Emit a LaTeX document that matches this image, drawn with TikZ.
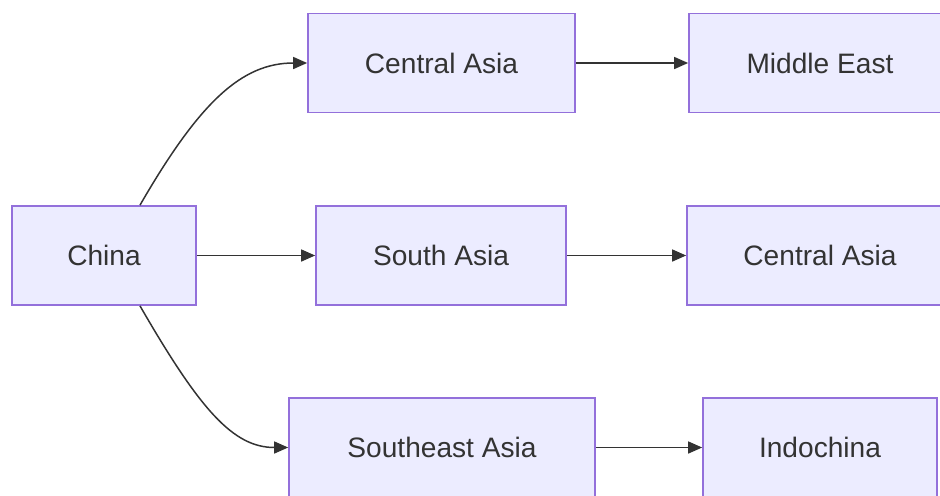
\documentclass[tikz,border=0pt]{standalone}
\usepackage{fontspec}
\setmainfont{Liberation Sans}
\usepackage{tikz}
\usetikzlibrary{positioning,arrows.meta,calc}
\definecolor{boxfill}{HTML}{ECECFF}
\definecolor{boxline}{HTML}{9370DB}
\definecolor{ink}{HTML}{333333}

\tikzset{
  region/.style={draw=boxline, fill=boxfill, line width=1pt, inner sep=0pt,
    minimum height=1.98cm, text=ink, font=\fontsize{16}{19}\selectfont},
  link/.style={draw=ink, line width=0.85pt, -{Triangle[length=0.28cm,width=0.24cm]}}
}

\begin{document}
\begin{tikzpicture}[x=0.02cm, y=0.02cm]
  \clip (0,0) rectangle (940,-495);

  % first column
  \node[region, minimum width=3.68cm] (china) at (104,-255.5) {China};

  % second column
  \node[region, minimum width=5.34cm] (ca1) at (441.5,-63) {Central Asia};
  \node[region, minimum width=5.00cm] (sa) at (441,-255.5) {South Asia};
  \node[region, minimum width=6.12cm] (sea) at (442,-447.5) {Southeast Asia};

  % third column
  \node[region, minimum width=5.24cm] (me) at (820,-63) {Middle East};
  \node[region, minimum width=5.32cm] (ca2) at (820,-255.5) {Central Asia};
  \node[region, minimum width=4.68cm] (ic) at (820,-447.5) {Indochina};

  \draw[link] ([xshift=0.72cm]china.north) .. controls +(60:2.4cm) and +(180:1.3cm) .. (ca1.west);
  \draw[link] (china.east) -- (sa.west);
  \draw[link] ([xshift=0.72cm]china.south) .. controls +(-60:2.4cm) and +(180:1.1cm) .. (sea.west);

  \draw[link] (ca1.east) -- (me.west);
  \draw[link] (sa.east) -- (ca2.west);
  \draw[link] (sea.east) -- (ic.west);
\end{tikzpicture}
\end{document}
